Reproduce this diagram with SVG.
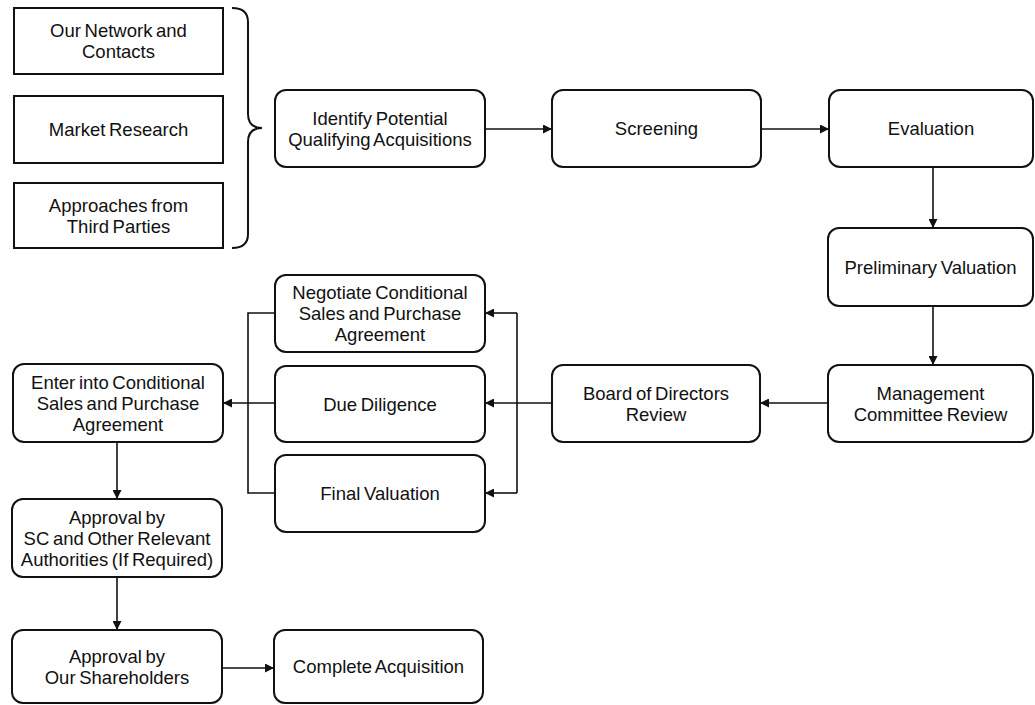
<svg xmlns="http://www.w3.org/2000/svg" width="1035" height="705" viewBox="0 0 1035 705">
  <style>
    .src { fill: #fff; stroke: #111; stroke-width: 2; }
    .box { fill: #fff; stroke: #111; stroke-width: 2; }
    .lbl { font-family: "Liberation Sans", Arial, sans-serif; font-size: 18.5px; fill: #111; text-anchor: middle; word-spacing: -1.5px; }
    .wire { fill: none; stroke: #111; stroke-width: 1.6; }
    .brace { fill: none; stroke: #111; stroke-width: 2; }
  </style>
  <defs>
    <marker id="arrow" viewBox="0 0 10 10" refX="10" refY="5" markerWidth="9" markerHeight="9" markerUnits="userSpaceOnUse" orient="auto">
      <path d="M0,0 L10,5 L0,10 z" fill="#111"/>
    </marker>
  </defs>

  <rect width="1035" height="705" fill="#fff"/>

  <!-- sources of acquisitions -->
  <g id="network">
    <rect class="src" x="14" y="8" width="209" height="66"/>
    <text class="lbl" x="118.5" y="37.2">Our Network and</text>
    <text class="lbl" x="118.5" y="58.2">Contacts</text>
  </g>
  <g id="market">
    <rect class="src" x="14" y="96" width="209" height="67"/>
    <text class="lbl" x="118.5" y="136.1">Market Research</text>
  </g>
  <g id="approaches">
    <rect class="src" x="14" y="183" width="209" height="65"/>
    <text class="lbl" x="118.5" y="211.7">Approaches from</text>
    <text class="lbl" x="118.5" y="232.7">Third Parties</text>
  </g>

  <!-- curly brace grouping the sources -->
  <path id="brace" class="brace" d="M232,8 Q248,8 248,22 V114 Q248,128 262,128 Q248,128 248,142 V234 Q248,248 232,248"/>

  <!-- process steps -->
  <g id="identify">
    <rect class="box" x="275" y="90" width="210" height="77" rx="11"/>
    <text class="lbl" x="380" y="124.7">Identify Potential</text>
    <text class="lbl" x="380" y="145.7">Qualifying Acquisitions</text>
  </g>
  <g id="screening">
    <rect class="box" x="552" y="90" width="209" height="77" rx="11"/>
    <text class="lbl" x="656.5" y="135.1">Screening</text>
  </g>
  <g id="evaluation">
    <rect class="box" x="829" y="90" width="204" height="77" rx="11"/>
    <text class="lbl" x="931" y="135.1">Evaluation</text>
  </g>
  <g id="preliminary">
    <rect class="box" x="828" y="228" width="205" height="78" rx="11"/>
    <text class="lbl" x="930.5" y="273.6">Preliminary Valuation</text>
  </g>
  <g id="management">
    <rect class="box" x="828" y="365" width="205" height="77" rx="11"/>
    <text class="lbl" x="930.5" y="399.7">Management</text>
    <text class="lbl" x="930.5" y="420.7">Committee Review</text>
  </g>
  <g id="board">
    <rect class="box" x="552" y="365" width="208" height="77" rx="11"/>
    <text class="lbl" x="656" y="399.7">Board of Directors</text>
    <text class="lbl" x="656" y="420.7">Review</text>
  </g>
  <g id="negotiate">
    <rect class="box" x="275" y="275" width="210" height="77" rx="11"/>
    <text class="lbl" x="380" y="299.1">Negotiate Conditional</text>
    <text class="lbl" x="380" y="320.1">Sales and Purchase</text>
    <text class="lbl" x="380" y="341.1">Agreement</text>
  </g>
  <g id="due-diligence">
    <rect class="box" x="275" y="366" width="210" height="76" rx="11"/>
    <text class="lbl" x="380" y="410.6">Due Diligence</text>
  </g>
  <g id="final-valuation">
    <rect class="box" x="275" y="455" width="210" height="77" rx="11"/>
    <text class="lbl" x="380" y="500.1">Final Valuation</text>
  </g>
  <g id="enter-agreement">
    <rect class="box" x="13" y="364" width="210" height="78" rx="11"/>
    <text class="lbl" x="118" y="388.6">Enter into Conditional</text>
    <text class="lbl" x="118" y="409.6">Sales and Purchase</text>
    <text class="lbl" x="118" y="430.6">Agreement</text>
  </g>
  <g id="approval-sc">
    <rect class="box" x="12" y="499" width="210" height="78" rx="11"/>
    <text class="lbl" x="117" y="523.6">Approval by</text>
    <text class="lbl" x="117" y="544.6">SC and Other Relevant</text>
    <text class="lbl" x="117" y="565.6">Authorities (If Required)</text>
  </g>
  <g id="approval-shareholders">
    <rect class="box" x="12" y="630" width="210" height="73" rx="11"/>
    <text class="lbl" x="117" y="662.7">Approval by</text>
    <text class="lbl" x="117" y="683.7">Our Shareholders</text>
  </g>
  <g id="complete">
    <rect class="box" x="274" y="630" width="209" height="73" rx="11"/>
    <text class="lbl" x="378.5" y="673.1">Complete Acquisition</text>
  </g>

  <!-- connectors -->
  <g id="connectors">
    <path class="wire" d="M485,129 H552" marker-end="url(#arrow)"/>
    <path class="wire" d="M761,129 H829" marker-end="url(#arrow)"/>
    <path class="wire" d="M933,167 V228" marker-end="url(#arrow)"/>
    <path class="wire" d="M933,306 V365" marker-end="url(#arrow)"/>
    <path class="wire" d="M828,403 H760" marker-end="url(#arrow)"/>
    <!-- board review fans out to the three parallel steps -->
    <path class="wire" d="M517,313 V493"/>
    <path class="wire" d="M517,313 H485" marker-end="url(#arrow)"/>
    <path class="wire" d="M552,403 H485" marker-end="url(#arrow)"/>
    <path class="wire" d="M517,493 H485" marker-end="url(#arrow)"/>
    <!-- parallel steps merge into the agreement -->
    <path class="wire" d="M275,313 H248 V493 H275"/>
    <path class="wire" d="M275,403 H223" marker-end="url(#arrow)"/>
    <path class="wire" d="M117,442 V499" marker-end="url(#arrow)"/>
    <path class="wire" d="M117,577 V630" marker-end="url(#arrow)"/>
    <path class="wire" d="M222,668 H274" marker-end="url(#arrow)"/>
  </g>
</svg>
